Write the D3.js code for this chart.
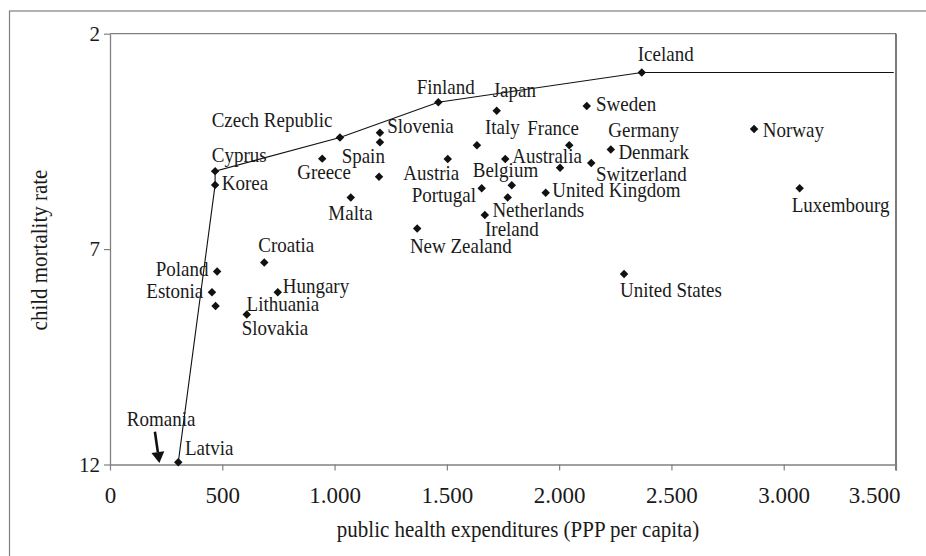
<!DOCTYPE html>
<html><head><meta charset="utf-8">
<script src="https://cdn.jsdelivr.net/npm/d3@7/dist/d3.min.js"></script>
<style>
body{margin:0;background:#fff}
svg{display:block}
text{font-family:"Liberation Serif","Times New Roman",serif;fill:#1a1a1a}
</style>
</head><body>
<svg id="c" width="926" height="556"></svg>
<script>
// ---------- data ----------
const countries = ["Iceland","Finland","Japan","Sweden","Czech Republic","Slovenia","Spain","Greece","","Malta",
  "Austria","Italy","Australia","France","Germany","Switzerland","Denmark","Belgium","Portugal","Ireland",
  "United Kingdom","Netherlands","New Zealand","Norway","Luxembourg","Cyprus","Korea","Croatia","Poland","Estonia",
  "Lithuania","Hungary","Slovakia","United States","Latvia"];
const spending = [2368,1462,1722,2123,1024,1202,1202,945,1198,1072,
  1504,1634,1760,2045,2004,2143,2230,1789,1655,1771,
  1940,1669,1368,2868,3071,468,468,687,477,454,
  470,747,609,2289,304];
const mortality = [2.90,3.59,3.79,3.68,4.41,4.30,4.52,4.90,5.32,5.80,
  4.91,4.59,4.91,4.59,5.11,5.00,4.69,5.52,5.59,5.80,
  5.69,6.21,6.52,4.21,5.59,5.19,5.51,7.31,7.52,8.00,
  8.32,8.00,8.52,7.58,11.95];
const frontier = ["Latvia","Korea","Cyprus","Czech Republic","Finland","Iceland"];
const frontierEndX = 3490;
const offChart = {name:"Romania", x:220, xTop:200, yTop:11.24};
const xTicks = [0,500,1000,1500,2000,2500,3000,3500];
const yTicks = [2,7,12];
const xTitle = "public health expenditures (PPP per capita)";
const yTitle = "child mortality rate";

// ---------- layout (label placement relative to markers) ----------
const labelPos = {
  "Iceland":[-4,-11],"Finland":[-21.6,-8],"Japan":[-4,-14.3],"Sweden":[9.3,4.7],
  "Czech Republic":[-128.3,-10.4],"Slovenia":[7.3,0.6],"Spain":[-38.3,21],"Greece":[-25,20.6],
  "Malta":[-22.4,22.7],"Austria":[-44.4,21],"Italy":[8,-11],"Australia":[7,4.3],"France":[-42,-10.3],
  "Germany":[48.3,-30.4],"Switzerland":[4.7,17.7],"Denmark":[7.6,9.6],"Belgium":[-39,-8.6],
  "Portugal":[-70,13.4],"Ireland":[-22.7,38.7],"United Kingdom":[6.6,4.6],"Netherlands":[7.6,2.3],
  "New Zealand":[-7.3,24.4],"Norway":[8.7,8],"Luxembourg":[-8,23.4],"Cyprus":[-3.3,-9.3],
  "Korea":[6.7,5],"Croatia":[-6,-10.6],"Poland":[-8.7,4,"end"],"Estonia":[-8.7,5.7,"end"],
  "Lithuania":[31,4.7],"Hungary":[5,1.3],"Slovakia":[-5,20.3],"United States":[-4,22.7],"Latvia":[6.7,-7]
};
const STRETCH = 1.12; // reference type is tall and narrow

const svg = d3.select("#c");
const x = d3.scaleLinear().domain([0,3500]).range([110,896]);
const y = d3.scaleLinear().domain([2,12]).range([33.7,464.5]);

// outer chart frame
svg.append("rect").attr("x",9.5).attr("y",11).attr("width",1000).attr("height",1000)
  .attr("fill","none").attr("stroke","#808080").attr("stroke-width",1.2);

// plot area border (top gray, right dark)
svg.append("line").attr("x1",x(0)).attr("x2",x(3500)).attr("y1",y(2)).attr("y2",y(2))
  .attr("stroke","#808080").attr("stroke-width",1.3);
svg.append("line").attr("x1",x(3500)).attr("x2",x(3500)).attr("y1",y(2)).attr("y2",y(12)+6)
  .attr("stroke","#222").attr("stroke-width",1.2);

const loc = d3.formatLocale({decimal:",",thousands:".",grouping:[3],currency:["",""]});
const fmt = loc.format(",d");

const gx = svg.append("g").attr("transform",`translate(0,${y(12)})`)
  .call(d3.axisBottom(x).tickValues(xTicks).tickFormat(fmt).tickSize(6).tickSizeOuter(0).tickPadding(16));
const gy = svg.append("g").attr("transform",`translate(${x(0)},0)`)
  .call(d3.axisLeft(y).tickValues(yTicks).tickSize(6).tickSizeOuter(0).tickPadding(4));
[gx,gy].forEach(g=>{
  g.select(".domain").attr("stroke","#808080").attr("stroke-width",1.3);
  g.selectAll(".tick line").attr("stroke","#808080").attr("stroke-width",1.2);
  g.selectAll(".tick text").attr("font-family","Liberation Serif").attr("fill","#1a1a1a");
});
gx.selectAll(".tick text").attr("font-size",23);
gy.selectAll(".tick text").attr("font-size",21);
gx.selectAll(".tick text").filter(d=>d===3500).attr("text-anchor","end").attr("dx",4);

// axis titles
svg.append("text").attr("transform",`translate(518,537) scale(1,${STRETCH})`).attr("text-anchor","middle")
  .attr("font-size",21).text(xTitle);
svg.append("text").attr("transform",`translate(47,250) rotate(-90) scale(1,${STRETCH})`).attr("text-anchor","middle")
  .attr("font-size",21).text(yTitle);

// frontier line
const idx = n => countries.indexOf(n);
const fpts = frontier.map(n=>[spending[idx(n)], mortality[idx(n)]]);
fpts.push([frontierEndX, mortality[idx("Iceland")]]);
svg.append("path").attr("d", d3.line().x(d=>x(d[0])).y(d=>y(d[1]))(fpts))
  .attr("fill","none").attr("stroke","#111").attr("stroke-width",1.1);

// points
const data = countries.map((c,i)=>({name:c, v:spending[i], m:mortality[i]}));
svg.append("g").selectAll("path").data(data).join("path")
  .attr("transform",d=>`translate(${x(d.v)},${y(d.m)}) rotate(45)`)
  .attr("d", d3.symbol().type(d3.symbolSquare).size(36))
  .attr("fill","#111");

// labels
svg.append("g").selectAll("text").data(data.filter(d=>d.name && labelPos[d.name])).join("text")
  .attr("transform",d=>`translate(${x(d.v)+labelPos[d.name][0]},${y(d.m)+labelPos[d.name][1]}) scale(1,${STRETCH})`)
  .attr("text-anchor",d=>labelPos[d.name][2]||"start")
  .attr("font-size",19)
  .text(d=>d.name);

// off-chart annotation (Romania) with arrow
const tipX = x(offChart.x), tipY = y(12)-1.5;
const topX = x(offChart.xTop), topY = y(offChart.yTop);
const headLen = 11, headW = 6.5;
const ang = Math.atan2(tipY-topY, tipX-topX);
const bx = tipX - headLen*Math.cos(ang), by = tipY - headLen*Math.sin(ang);
svg.append("line").attr("x1",topX).attr("y1",topY).attr("x2",bx).attr("y2",by)
  .attr("stroke","#111").attr("stroke-width",2.6);
svg.append("path").attr("d",`M${tipX},${tipY}L${bx+headW*Math.sin(ang)},${by-headW*Math.cos(ang)}L${bx-headW*Math.sin(ang)},${by+headW*Math.cos(ang)}Z`)
  .attr("fill","#111");
svg.append("text").attr("transform",`translate(${tipX-32.6},${tipY-37}) scale(1,${STRETCH})`)
  .attr("font-size",19).text(offChart.name);
</script>
</body></html>
